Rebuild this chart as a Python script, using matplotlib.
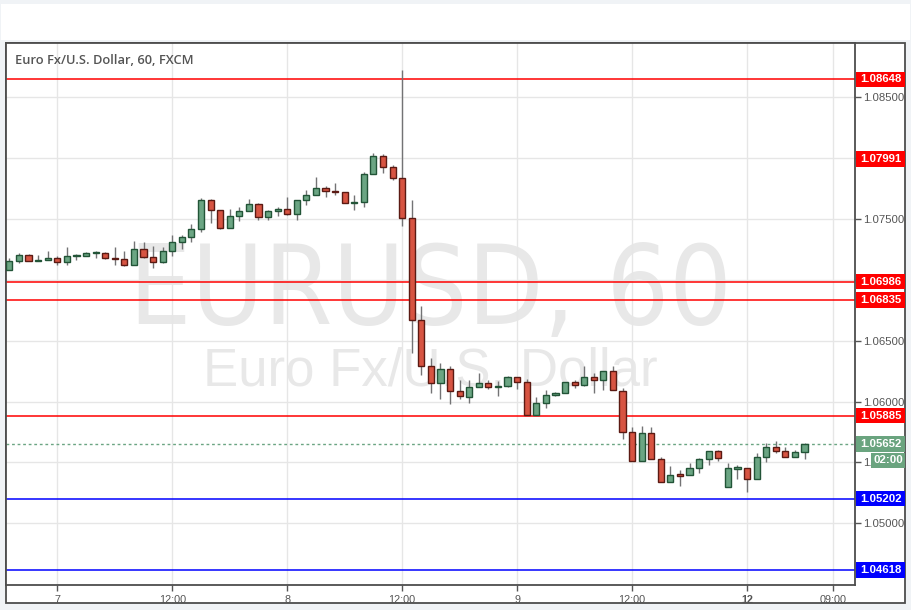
import matplotlib
matplotlib.use("Agg")
import matplotlib.pyplot as plt
from matplotlib.patches import Rectangle
from matplotlib.transforms import blended_transform_factory

# EURUSD hourly candles, bar 0 = day 7 00:00
bars = list(range(-5, 79))
opens = [1.07080, 1.07154, 1.07206, 1.07156, 1.07165, 1.07181, 1.07148, 1.07193, 1.07195, 1.07222,
         1.07222, 1.07178, 1.07173, 1.07124, 1.07255, 1.07189, 1.07146, 1.07238, 1.07309, 1.07353,
         1.07416, 1.07656, 1.07574, 1.07424, 1.07522, 1.07563, 1.07623, 1.07514, 1.07563, 1.07582,
         1.07539, 1.07653, 1.07694, 1.07754, 1.07730, 1.07722, 1.07629, 1.07637, 1.07869, 1.08016,
         1.07926, 1.07836, 1.07509, 1.06673, 1.06296, 1.06149, 1.06264, 1.06089, 1.06034, 1.06116,
         1.06149, 1.06116, 1.06125, 1.06199, 1.06157, 1.05892, 1.05985, 1.06051, 1.06067, 1.06157,
         1.06133, 1.06199, 1.06174, 1.06248, 1.06090, 1.05746, 1.05509, 1.05738, 1.05525, 1.05337,
         1.05397, 1.05394, 1.05451, 1.05525, 1.05590, 1.05296, 1.05449, 1.05451, 1.05361, 1.05541,
         1.05623, 1.05590, 1.05541, 1.05582]
closes = [1.07156, 1.07206, 1.07156, 1.07167, 1.07181, 1.07148, 1.07197, 1.07196, 1.07219, 1.07224,
          1.07178, 1.07173, 1.07124, 1.07255, 1.07186, 1.07146, 1.07238, 1.07312, 1.07353, 1.07419,
          1.07656, 1.07571, 1.07424, 1.07525, 1.07566, 1.07623, 1.07517, 1.07566, 1.07582, 1.07539,
          1.07656, 1.07697, 1.07754, 1.07727, 1.07719, 1.07629, 1.07640, 1.07869, 1.08016, 1.07926,
          1.07833, 1.07509, 1.06673, 1.06296, 1.06149, 1.06264, 1.06089, 1.06043, 1.06116, 1.06149,
          1.06116, 1.06125, 1.06199, 1.06157, 1.05892, 1.05985, 1.06051, 1.06067, 1.06157, 1.06133,
          1.06199, 1.06174, 1.06248, 1.06092, 1.05746, 1.05509, 1.05738, 1.05525, 1.05337, 1.05394,
          1.05391, 1.05451, 1.05525, 1.05590, 1.05533, 1.05451, 1.05451, 1.05361, 1.05541, 1.05623,
          1.05590, 1.05541, 1.05582, 1.05652]
highs = [1.07176, 1.07219, 1.07216, 1.07206, 1.07233, 1.07197, 1.07266, 1.07216, 1.07230, 1.07241,
         1.07230, 1.07266, 1.07241, 1.07323, 1.07315, 1.07279, 1.07271, 1.07372, 1.07372, 1.07462,
         1.07675, 1.07667, 1.07574, 1.07582, 1.07601, 1.07667, 1.07631, 1.07577, 1.07599, 1.07683,
         1.07656, 1.07741, 1.07847, 1.07773, 1.07793, 1.07722, 1.07700, 1.07888, 1.08041, 1.08033,
         1.07945, 1.08723, 1.07659, 1.06788, 1.06362, 1.06316, 1.06291, 1.06174, 1.06177, 1.06234,
         1.06177, 1.06168, 1.06210, 1.06199, 1.06182, 1.06034, 1.06094, 1.06075, 1.06157, 1.06177,
         1.06292, 1.06231, 1.06248, 1.06292, 1.06115, 1.05793, 1.05798, 1.05790, 1.05541, 1.05470,
         1.05438, 1.05492, 1.05536, 1.05590, 1.05604, 1.05492, 1.05476, 1.05451, 1.05574, 1.05656,
         1.05675, 1.05623, 1.05599, 1.05656]
lows = [1.07077, 1.07137, 1.07151, 1.07154, 1.07162, 1.07121, 1.07121, 1.07167, 1.07192, 1.07178,
        1.07170, 1.07126, 1.07110, 1.07121, 1.07181, 1.07096, 1.07137, 1.07200, 1.07252, 1.07309,
        1.07391, 1.07465, 1.07416, 1.07424, 1.07481, 1.07563, 1.07495, 1.07489, 1.07522, 1.07533,
        1.07489, 1.07618, 1.07694, 1.07683, 1.07694, 1.07629, 1.07577, 1.07596, 1.07866, 1.07874,
        1.07817, 1.07440, 1.06400, 1.06215, 1.06067, 1.06023, 1.05977, 1.06018, 1.05985, 1.06116,
        1.06105, 1.06048, 1.06122, 1.06100, 1.05892, 1.05892, 1.05949, 1.06042, 1.06067, 1.06108,
        1.06127, 1.06073, 1.06097, 1.06092, 1.05694, 1.05509, 1.05509, 1.05525, 1.05337, 1.05337,
        1.05309, 1.05394, 1.05416, 1.05481, 1.05514, 1.05296, 1.05367, 1.05255, 1.05361, 1.05500,
        1.05574, 1.05541, 1.05541, 1.05530]

# levels drawn on the chart
level_prices = [1.08648, 1.07991, 1.06986, 1.06835, 1.05885, 1.05202, 1.04618]
level_colors = ['#ff0000', '#ff0000', '#ff0000', '#ff0000', '#ff0000', '#0000ff', '#0000ff']
level_has_line = [True, False, True, True, True, True, True]

last_price = 1.05652
countdown = '02:00'

x_ticks = [0, 12, 24, 36, 48, 60, 72, 81]
x_labels = ['7', '12:00', '8', '12:00', '9', '12:00', '12', '09:00']
y_ticks = [1.050, 1.055, 1.060, 1.065, 1.070, 1.075, 1.080, 1.085]
y_labels = ['1.05000', '1.', '1.06000', '1.06500', '', '1.07500', '', '1.08500']

W, H = 912, 610
UP, UP_EDGE = '#6ba583', '#225437'
DN, DN_EDGE = '#d75442', '#5b1a13'
WICK = '#737375'
TXT = '#555555'

fig = plt.figure(figsize=(W / 100, H / 100), dpi=100)
fig.patch.set_facecolor('#f0f3f6')

# white toolbar strip and chart frame (behind the axes)
fig.add_artist(Rectangle((1 / W, 1 - 40 / H), 909 / W, 36 / H, transform=fig.transFigure,
                         facecolor='white', edgecolor='none', zorder=-10))
fig.add_artist(Rectangle((6 / W, 1 - 603 / H), 899.5 / W, 560 / H, transform=fig.transFigure,
                         facecolor='white', edgecolor='#4d4d4d', linewidth=1.3, zorder=-10))

ax = fig.add_axes([6 / W, 1 - 585 / H, 849 / W, 542 / H])
ax.set_facecolor('white')
ax.set_xlim(-5.355, 83.27)
ax.set_ylim(1.04493, 1.08946)
ppu = 542 / (1.08946 - 1.04493)  # pixels per price unit

for s in ax.spines.values():
    s.set_color('#4d4d4d')
    s.set_linewidth(1.3)

ax.set_yticks(y_ticks)
ax.set_yticklabels(y_labels)
ax.yaxis.tick_right()
ax.set_xticks(x_ticks)
ax.set_xticklabels(x_labels)
ax.tick_params(axis='y', colors=TXT, labelsize=8.2, length=4, width=1, pad=2)
ax.tick_params(axis='x', colors=TXT, labelsize=7.8, length=4, width=1, pad=3)
for lab in ax.get_yticklabels() + ax.get_xticklabels():
    lab.set_family(['Liberation Sans', 'DejaVu Sans'])
for lab in ax.get_xticklabels():
    if lab.get_text() == '12':
        lab.set_fontweight('bold')
ax.grid(True, color='#e6e6e6', linewidth=1, zorder=0)
ax.set_axisbelow(True)

# watermark
ax.text(0.5, 0.538, 'EURUSD, 60', transform=ax.transAxes, ha='center', va='center',
        fontsize=79, color='#e8e8e8', family='DejaVu Sans', fontstretch='condensed',
        zorder=0.5)
ax.text(0.5, 0.393, 'Euro Fx/U.S. Dollar', transform=ax.transAxes, ha='center', va='center',
        fontsize=38, color='#e8e8e8', family=['Liberation Sans'], zorder=0.5)

# title
ax.text(9 / 849, 1 - 18 / 542, 'Euro Fx/U.S. Dollar, 60, FXCM', transform=ax.transAxes,
        ha='left', va='center', fontsize=9.3, color=TXT, fontweight='semibold',
        family=['Open Sans', 'DejaVu Sans'], zorder=6)

# level lines
for p, c, has in zip(level_prices, level_colors, level_has_line):
    if has:
        ax.axhline(p, color=c, linewidth=1.1, zorder=2)

# last price dotted line
ax.axhline(last_price, color=UP, linewidth=1, linestyle=(0, (2, 2)), zorder=2)

# candles
bw = 0.64
for x, o, h, l, c in zip(bars, opens, highs, lows, closes):
    up = c >= o
    ax.plot([x, x], [l, h], color=WICK, linewidth=1, zorder=3, solid_capstyle='butt')
    lo = min(o, c)
    hgt = max(abs(c - o), 1.2 / ppu)
    ax.add_patch(Rectangle((x - bw / 2, lo), bw, hgt, facecolor=UP if up else DN,
                           edgecolor=UP_EDGE if up else DN_EDGE, linewidth=1, zorder=4))

# price labels on the right axis
tr = blended_transform_factory(ax.transAxes, ax.transData)
bx0 = 1 + 1 / 849
bwid = 49.5 / 849
bh = 15.5 / ppu


def price_box(y, text, fc, x0=bx0, wid=bwid):
    ax.add_patch(Rectangle((x0, y - bh / 2), wid, bh, transform=tr, facecolor=fc,
                           edgecolor='none', clip_on=False, zorder=7))
    ax.text(x0 + wid / 2, y, text, transform=tr, ha='center', va='center', color='white',
            fontsize=8.2, fontweight='bold', family=['Liberation Sans', 'DejaVu Sans'],
            clip_on=False, zorder=8)


for p, c in zip(level_prices, level_colors):
    price_box(p, '%.5f' % p, c)
price_box(last_price, '%.5f' % last_price, '#6aa47f')
price_box(last_price - 16.5 / ppu, countdown, '#6aa47f', x0=1 + 16 / 849, wid=34.5 / 849)

fig.savefig('out.png', dpi=100, facecolor=fig.get_facecolor())
